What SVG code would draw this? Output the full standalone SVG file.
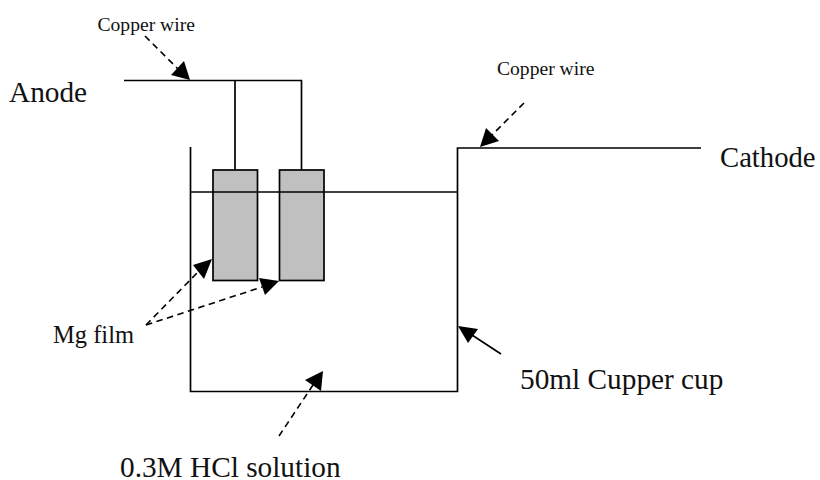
<svg xmlns="http://www.w3.org/2000/svg" width="820" height="480" viewBox="0 0 820 480">
<style>
text{font-family:"Liberation Serif","Times New Roman",serif;fill:#111}
.s{font-size:19.600px}
.m{font-size:24.500px}
.l{font-size:29.300px}
.c{font-size:28.700px}
.w{fill:none;stroke:#000;stroke-width:1.7}
.d{fill:none;stroke:#000;stroke-width:1.6;stroke-dasharray:6.500 4.500}
.f{fill:#c0c0c0;stroke:#000;stroke-width:1.7}
.a{fill:#000;stroke:none}
</style>
<rect width="820" height="480" fill="#fff"/>
<g id="film1"><rect class="f" x="213" y="170" width="44.500" height="110.500"/></g>
<g id="film2"><rect class="f" x="279.500" y="170" width="44.500" height="110.500"/></g>
<g id="connectors">
<path class="w" d="M124 80.500H301.500V170M235 80.500V170"/>
<path class="w" d="M190.500 147V391.500H457.500V148H701"/>
<path class="w" d="M190.500 192H457.500"/>
<path class="d" d="M145 36L178 69"/><polygon class="a" points="190,80 171,75 184,61"/>
<path class="d" d="M524 103L492 135"/><polygon class="a" points="480,147 486,128 499,141"/>
<path class="d" d="M146 325L198 272"/><polygon class="a" points="212,259 193,265 204,279"/>
<path class="d" d="M146 325L262 287"/><polygon class="a" points="279,281 259,278 265,295"/>
<path class="d" d="M279 436L313 385"/><polygon class="a" points="323,371 305,380 321,391"/>
<path class="w" d="M501 354L472 335"/><polygon class="a" points="458,326 478,329 468,343"/>
</g>
<g id="labels">
<text class="s" x="97.500" y="30.500">Copper wire</text>
<text class="s" x="497" y="75">Copper wire</text>
<text class="l" x="9" y="101.500">Anode</text>
<text class="c" x="720" y="167">Cathode</text>
<text class="m" x="53" y="343">Mg film</text>
<text class="l" x="520" y="389">50ml Cupper cup</text>
<text class="l" x="120" y="477">0.3M HCl solution</text>
</g>
</svg>
